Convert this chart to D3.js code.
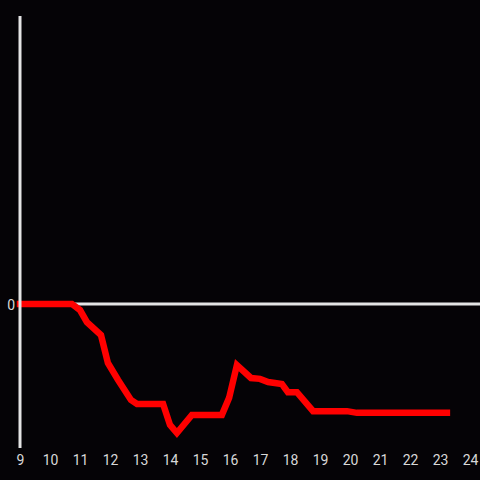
<!DOCTYPE html>
<html>
<head>
<meta charset="utf-8">
<script src="https://cdn.jsdelivr.net/npm/d3@7"></script>
<style>
  html, body { margin: 0; padding: 0; background: #050306; }
  svg { display: block; }
</style>
</head>
<body>
<svg width="480" height="480"></svg>
<script>
// hours of day (x) and values (y)
const hours = [9, 10.73, 11.0, 11.23, 11.7, 11.93, 12.27, 12.7, 12.9, 13.77, 14.0, 14.23,
               14.73, 15.73, 15.97, 16.23, 16.7, 17.0, 17.27, 17.73, 17.93, 18.23, 18.77,
               19.9, 20.23, 23.23];
const values = [0, 0, -0.21, -0.63, -1.08, -2.05, -2.64, -3.33, -3.47, -3.47, -4.2, -4.48,
                -3.85, -3.85, -3.26, -2.12, -2.57, -2.6, -2.71, -2.78, -3.06, -3.06, -3.72,
                -3.72, -3.78, -3.78];
const xTicks = d3.range(9, 25);
const yTicks = [0];

const svg = d3.select("svg");
const attr_area = { left: 20, right: 470, top: 16, bottom: 448 };

const scX = d3.scaleLinear().domain([9, 24]).range([attr_area.left, attr_area.right]);
const scY = d3.scaleLinear().domain([-5, 10]).range([attr_area.bottom, attr_area.top]);

// нулевая линия
svg.append("line")
    .attr("x1", attr_area.left).attr("x2", 480)
    .attr("y1", scY(0)).attr("y2", scY(0))
    .style("stroke", "#e4e4e4")
    .style("stroke-width", 3);

// красная линия (над нулевой, под вертикальной осью)
const pts = hours.map((h, i) => ({ x: h, y: values[i] }));
const line = d3.line().x(d => scX(d.x)).y(d => scY(d.y));
svg.append("path")
    .datum(pts)
    .attr("d", line)
    .style("fill", "none")
    .style("stroke", "#ff0000")
    .style("stroke-width", 6.5)
    .style("stroke-linecap", "square");

// ось X — только подписи
const axisX = d3.axisBottom(scX).tickValues(xTicks).tickSize(0).tickPadding(7);
const gx = svg.append("g")
    .attr("transform", `translate(0, ${attr_area.bottom})`)
    .call(axisX);
gx.select(".domain").remove();
gx.selectAll("text")
    .attr("fill", "#d8d8d8")
    .style("font-family", "Roboto, 'DejaVu Sans', sans-serif")
    .style("font-size", "14px");

// ось Y — подпись нуля
const axisY = d3.axisLeft(scY).tickValues(yTicks).tickSize(0).tickPadding(5);
const gy = svg.append("g")
    .attr("transform", `translate(${attr_area.left}, 1)`)
    .call(axisY);
gy.select(".domain").remove();
gy.selectAll("text")
    .attr("fill", "#d8d8d8")
    .style("font-family", "Roboto, 'DejaVu Sans', sans-serif")
    .style("font-size", "14px");

// вертикальная линия оси
svg.append("line")
    .attr("x1", attr_area.left).attr("x2", attr_area.left)
    .attr("y1", attr_area.top).attr("y2", attr_area.bottom)
    .style("stroke", "#e4e4e4")
    .style("stroke-width", 3);
</script>
</body>
</html>
